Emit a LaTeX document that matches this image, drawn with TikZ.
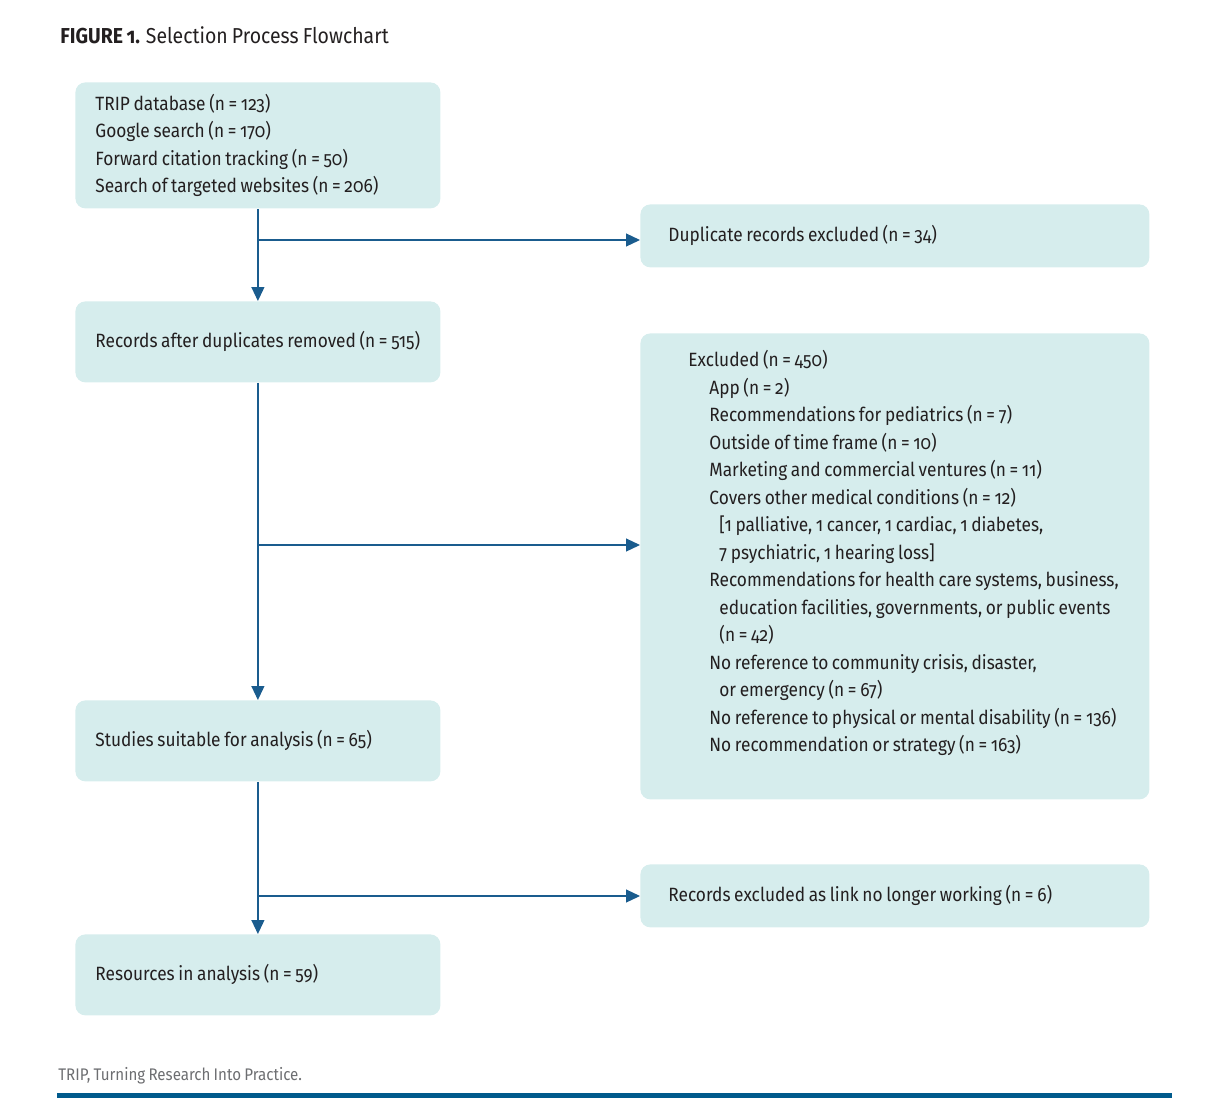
\documentclass[tikz,border=0pt]{standalone}
\usepackage{fontspec}
\setmainfont{Fira Sans}[Numbers=OldStyle,FakeStretch=0.9,WordSpace=0.8]
\usepackage{xcolor}
\usetikzlibrary{arrows.meta}

\definecolor{boxfill}{HTML}{D6EDED}
\definecolor{linkblue}{HTML}{1A5C8E}
\definecolor{barblue}{HTML}{005A8C}
\definecolor{inkdark}{HTML}{231F20}
\definecolor{notegrey}{HTML}{6D6E71}

\tikzset{
    stagebox/.style={fill=boxfill, rounded corners=5pt, anchor=north west,
        align=left, inner ysep=0pt, text=inkdark,
        font=\fontsize{9.6}{13.75}\selectfont,
        execute at begin node={\spaceskip=0pt\xspaceskip=0pt}},
    leftbox/.style={stagebox, minimum width=182.5pt, minimum height=40.5pt,
        inner xsep=10pt, text width=162.5pt},
    rightbox/.style={stagebox, minimum width=254.5pt, minimum height=31.5pt,
        inner xsep=14pt, text width=226.5pt},
    flow/.style={draw=linkblue, line width=0.6pt,
        -{Triangle[length=7pt,width=6.5pt]}},
}

\newcommand{\exclind}{\hspace*{10.5pt}}
\newcommand{\exclsub}{\hspace*{15.5pt}}

\begin{document}
\begin{tikzpicture}[x=0.5pt, y=-0.5pt]
    \useasboundingbox (0,0) rectangle (1232,1098);

    % heading and note
    \node[anchor=base west, inner sep=0pt, text=inkdark,
        font=\fontsize{10.8}{12}\selectfont] (title) at (60,43)
        {\textbf{FIGURE 1.} Selection Process Flowchart};
    \node[anchor=base west, inner sep=0pt, text=notegrey,
        font=\fontsize{8.4}{10}\selectfont] (note) at (58,1080)
        {TRIP, Turning Research Into Practice.};
    \fill[barblue] (57,1093) rectangle (1172,1098);

    % main column
    \node[leftbox, minimum height=63pt] (sources) at (75,82)
        {TRIP database (n = 123)\\
         Google search (n = 170)\\
         Forward citation tracking (n = 50)\\
         Search of targeted websites (n = 206)};
    \node[leftbox] (dedup) at (75,301)
        {Records after duplicates removed (n = 515)};
    \node[leftbox] (suitable) at (75,700)
        {Studies suitable for analysis (n = 65)};
    \node[leftbox] (final) at (75,934)
        {Resources in analysis (n = 59)};

    % exclusions
    \node[rightbox] (dupes) at (640,204)
        {Duplicate records excluded (n = 34)};
    \node[rightbox, minimum height=233pt] (excl) at (640,333) {};
    \node[anchor=north west, inner sep=0pt, align=left, text=inkdark,
        font=\fontsize{9.6}{13.75}\selectfont] (excltext) at (688,350)
        {Excluded (n = 450)\\
         \exclind App (n = 2)\\
         \exclind Recommendations for pediatrics (n = 7)\\
         \exclind Outside of time frame (n = 10)\\
         \exclind Marketing and commercial ventures (n = 11)\\
         \exclind Covers other medical conditions (n = 12)\\
         \exclsub [1 palliative, 1 cancer, 1 cardiac, 1 diabetes,\\
         \exclsub 7 psychiatric, 1 hearing loss]\\
         \exclind Recommendations for health care systems, business,\\
         \exclsub education facilities, governments, or public events\\
         \exclsub (n = 42)\\
         \exclind No reference to community crisis, disaster,\\
         \exclsub or emergency (n = 67)\\
         \exclind No reference to physical or mental disability (n = 136)\\
         \exclind No recommendation or strategy (n = 163)};
    \node[rightbox] (broken) at (640,864)
        {Records excluded as link no longer working (n = 6)};

    % connectors
    \coordinate (split1) at (257.5,240);
    \coordinate (split2) at (257.5,545);
    \coordinate (split3) at (257.5,896);

    \draw[flow] (sources.south) -- (dedup.north);
    \draw[flow] (split1) -- (split1 -| dupes.west);
    \draw[flow] (dedup.south) -- (suitable.north);
    \draw[flow] (split2) -- (split2 -| excl.west);
    \draw[flow] (suitable.south) -- (final.north);
    \draw[flow] (split3) -- (split3 -| broken.west);
\end{tikzpicture}
\end{document}
